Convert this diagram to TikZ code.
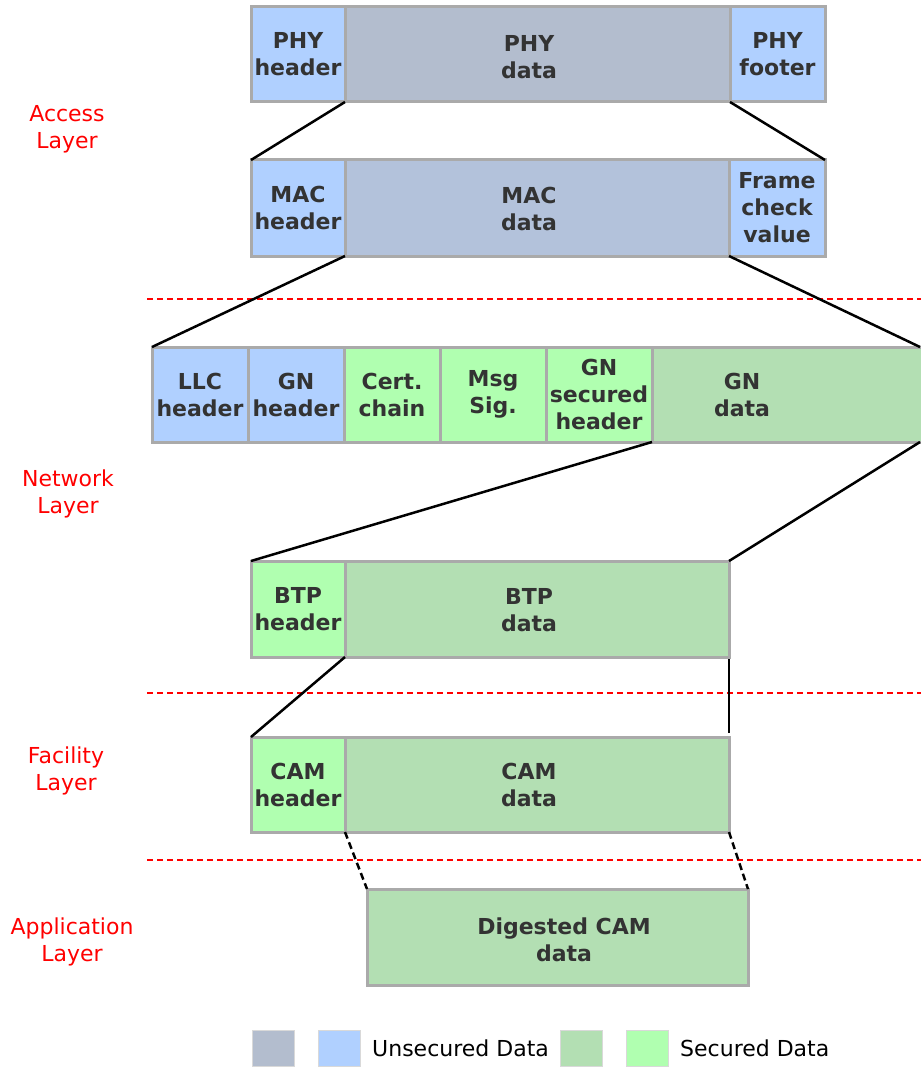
\documentclass[tikz,border=0pt]{standalone}
\usepackage{fontspec}
\setmainfont{DejaVu Sans}
\definecolor{cslate}{HTML}{B3BDCE}
\definecolor{cslateb}{HTML}{B3C2DB}
\definecolor{cblue}{HTML}{B0D0FF}
\definecolor{cgreen}{HTML}{B3DFB3}
\definecolor{clgreen}{HTML}{B0FFB0}
\definecolor{cborder}{HTML}{AAAAAA}
\definecolor{ctext}{HTML}{333333}
\begin{document}
\begin{tikzpicture}[x=1pt,y=-1pt,
  field/.style={draw=cborder, line width=3pt, outer sep=0pt, inner sep=0pt,
    anchor=north west, align=center, text=ctext,
    font=\fontsize{22}{27}\selectfont\bfseries},
  fieldtext/.style={align=center, text=ctext, inner sep=0pt,
    font=\fontsize{22}{27}\selectfont\bfseries},
  layerlabel/.style={align=center, text=red, inner sep=0pt,
    font=\fontsize{22}{27}\selectfont},
  zoomline/.style={line width=2.5pt, black},
  zoomdash/.style={line width=2.5pt, black, dash pattern=on 7pt off 4pt},
  separator/.style={line width=2pt, red, dash pattern=on 6pt off 4pt},
  swatch/.style={draw=black!15, line width=0.8pt, minimum width=42pt,
    minimum height=36pt, inner sep=0pt, outer sep=0pt, anchor=north west},
  legendtext/.style={anchor=west, inner sep=0pt, font=\fontsize{22}{27}\selectfont}]
\useasboundingbox (0,0) rectangle (920,1067);

% layer separators
\draw[separator] (147,299) -- (922,299);
\draw[separator] (147,693) -- (922,693);
\draw[separator] (147,860) -- (922,860);

% layer names
\node[layerlabel] (lacc) at (67,129) {Access\\Layer};
\node[layerlabel] (lnet) at (68,494) {Network\\Layer};
\node[layerlabel] (lfac) at (66,771) {Facility\\Layer};
\node[layerlabel] (lapp) at (72,942) {Application\\Layer};

% PHY frame
\node[field, fill=cblue,  minimum width=94pt,  minimum height=95pt] (phyh) at (251,7) {PHY\\header};
\node[field, fill=cslate, minimum width=385pt, minimum height=95pt] (phyd) at (345,7) {};
\node[fieldtext] (phydt) at (529,57) {PHY\\data};
\node[field, fill=cblue,  minimum width=95pt,  minimum height=95pt] (phyf) at (730,7) {PHY\\footer};

% MAC frame
\node[field, fill=cblue,   minimum width=94pt,  minimum height=96pt] (mach) at (251,160) {MAC\\header};
\node[field, fill=cslateb, minimum width=384pt, minimum height=96pt] (macd) at (345,160) {};
\node[fieldtext] (macdt) at (529,209) {MAC\\data};
\node[field, fill=cblue,   minimum width=96pt,  minimum height=96pt] (macf) at (729,160) {Frame\\check\\value};

% LLC / GeoNetworking packet
\node[field, fill=cblue,   minimum width=96pt,  minimum height=95pt] (llc)  at (152,347) {LLC\\header};
\node[field, fill=cblue,   minimum width=96pt,  minimum height=95pt] (gnh)  at (248,347) {GN\\header};
\node[field, fill=clgreen, minimum width=96pt,  minimum height=95pt] (cert) at (344,347) {Cert.\\chain};
\node[field, fill=clgreen, minimum width=106pt, minimum height=95pt] (msg)  at (440,347) {Msg\\Sig.};
\node[field, fill=clgreen, minimum width=106pt, minimum height=95pt] (gns)  at (546,347) {GN\\secured\\header};
\node[field, fill=cgreen,  minimum width=280pt, minimum height=95pt] (gnd)  at (652,347) {};
\node[fieldtext] (gndtxt) at (742,395) {GN\\data};
\coordinate (gntop) at (920,347);
\coordinate (gnbot) at (920,442);

% BTP packet
\node[field, fill=clgreen, minimum width=94pt,  minimum height=96pt] (btph) at (251,561) {BTP\\header};
\node[field, fill=cgreen,  minimum width=384pt, minimum height=96pt] (btpd) at (345,561) {};
\node[fieldtext] (btpdt) at (529,610) {BTP\\data};

% CAM message
\node[field, fill=clgreen, minimum width=94pt,  minimum height=95pt] (camh) at (251,737) {CAM\\header};
\node[field, fill=cgreen,  minimum width=384pt, minimum height=95pt] (camd) at (345,737) {};
\node[fieldtext] (camdt) at (529,785) {CAM\\data};

% application view
\node[field, fill=cgreen, minimum width=381pt, minimum height=96pt] (dig) at (367,889) {};
\node[fieldtext] (digt) at (564,940) {Digested CAM\\data};

% zoom-in connectors
\draw[zoomline] (phyd.south west) -- (mach.north west);
\draw[zoomline] (phyd.south east) -- (macf.north east);
\draw[zoomline] (macd.south west) -- (llc.north west);
\draw[zoomline] (macd.south east) -- (gntop);
\draw[zoomline] (gns.south east) -- (btph.north west);
\draw[zoomline] (gnbot) -- (btpd.north east);
\draw[zoomline] (btpd.south west) -- (camh.north west);
\draw[zoomline] ([yshift=-2pt]btpd.south east) -- ([yshift=4pt]camd.north east);
\draw[zoomdash] (camd.south west) -- (dig.north west);
\draw[zoomdash] (camd.south east) -- (dig.north east);

% legend
\node[swatch, fill=cslate]  (sw1) at (252,1030) {};
\node[swatch, fill=cblue]   (sw2) at (318,1030) {};
\node[legendtext] (lt1) at (372,1048) {Unsecured Data};
\node[swatch, fill=cgreen]  (sw3) at (560,1030) {};
\node[swatch, fill=clgreen] (sw4) at (626,1030) {};
\node[legendtext] (lt2) at (680,1048) {Secured Data};
\end{tikzpicture}
\end{document}
